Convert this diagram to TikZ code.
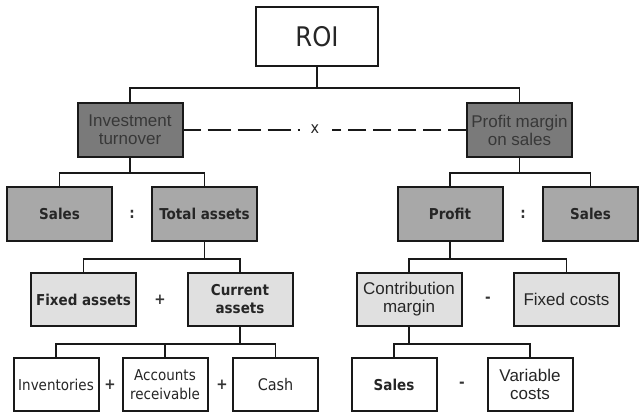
\documentclass[tikz,border=0pt]{standalone}
\usepackage{fontspec}
\setmainfont{Liberation Sans}
\newfontfamily\tah[FakeStretch=0.9]{DejaVu Sans}
\begin{document}
\begin{tikzpicture}[x=1pt,y=-1pt,
  box/.style={draw=black!90, line width=2pt, align=center, inner sep=0pt, text=black!85},
  dark/.style={box, fill=black!52, text=black!78},
  mid/.style={box, fill=black!34},
  light/.style={box, fill=black!12},
  plain/.style={box, fill=white},
  wide/.style={minimum width=105pt, minimum height=54pt},
  narrow/.style={minimum width=85pt, minimum height=53pt},
  ar/.style={font=\fontsize{17}{18}\selectfont},
  tb/.style={font=\tah\bfseries\fontsize{15}{18}\selectfont},
  tr/.style={font=\tah\fontsize{15}{19}\selectfont},
  op/.style={font=\tah\bfseries\fontsize{15}{18}\selectfont, text=black!80, inner sep=1pt},
  link/.style={draw=black!90, line width=1.6pt},
  dashlink/.style={draw=black!90, line width=1.8pt}
]
\useasboundingbox (0,0) rectangle (639,413);

% top node
\node[plain, minimum width=122pt, minimum height=59pt, font=\tah\fontsize{27}{30}\selectfont] (roi) at (317,36.5) {ROI};

% first level
\node[dark, wide, ar] (inv) at (130,130) {Investment\\turnover};
\node[dark, wide, ar] (pms) at (519.5,130) {Profit margin\\on sales};

% second level
\node[mid, wide, tb] (sal1) at (59.5,214) {Sales};
\node[mid, wide, tb] (tot) at (204.5,214) {Total assets};
\node[mid, wide, tb] (prof) at (450,214) {Profit};
\node[mid, minimum width=95pt, minimum height=54pt, tb] (sal2) at (590.5,214) {Sales};

% third level
\node[light, wide, minimum height=53pt, tb] (fixa) at (83.5,299.5) {Fixed assets};
\node[light, wide, minimum height=53pt, tb] (cura) at (240,299.5) {Current\\assets};
\node[light, wide, minimum height=53pt, ar] (cm) at (409,299.5) {Contribution\\margin};
\node[light, wide, minimum height=53pt, ar] (fixc) at (566.5,299.5) {Fixed costs};

% fourth level
\node[plain, narrow, tr] (invt) at (56,384.5) {Inventories};
\node[plain, narrow, tr] (recv) at (165,384.5) {Accounts\\receivable};
\node[plain, narrow, font=\tah\fontsize{16}{18}\selectfont] (cash) at (275.5,384.5) {Cash};
\node[plain, narrow, tb] (sal3) at (394,384.5) {Sales};
\node[plain, narrow, ar] (vc) at (530,384.5) {Variable\\costs};

% operators
\node[op] (o1) at (132,214) {:};
\node[op] (o2) at (523,214) {:};
\node[op] (o3) at (160,300) {+};
\node[op] (o4) at (488,300) {-};
\node[op] (o5) at (110,385) {+};
\node[op] (o6) at (222,385) {+};
\node[op] (o7) at (462,385) {-};
\node[font=\tah\fontsize{16}{18}\selectfont, text=black!85, inner sep=1pt] (times) at (315,129) {x};

% tree connectors
\draw[link] (roi.south) -- ++(0,21) -| (inv.north);
\draw[link] (roi.south) -- ++(0,21) -| (pms.north);
\draw[link] (inv.south) -- ++(0,15) -| (sal1.north);
\draw[link] (inv.south) -- ++(0,15) -| (tot.north);
\draw[link] (pms.south) -- ++(0,15) -| (prof.north);
\draw[link] (pms.south) -- ++(0,15) -| (sal2.north);
\draw[link] (tot.south) -- ++(0,17) -| (fixa.north);
\draw[link] (tot.south) -- ++(0,17) -| (cura.north);
\draw[link] (prof.south) -- ++(0,17) -| (cm.north);
\draw[link] (prof.south) -- ++(0,17) -| (fixc.north);
\draw[link] (cura.south) -- ++(0,17) -| (invt.north);
\draw[link] (cura.south) -- ++(0,17) -| (recv.north);
\draw[link] (cura.south) -- ++(0,17) -| (cash.north);
\draw[link] (cm.south) -- ++(0,17) -| (sal3.north);
\draw[link] (cm.south) -- ++(0,17) -| (vc.north);

% dashed multiplication link, broken around the x sign
\draw[dashlink, dash pattern=on 17pt off 7pt on 23pt off 7pt on 23pt off 7pt on 23pt off 7pt on 2pt off 40pt]
  (inv.east) -- (inv.east -| times.west);
\draw[dashlink, dash pattern=on 18pt off 7pt] (pms.west) -- ([xshift=12pt]pms.west -| times.east);
\end{tikzpicture}
\end{document}
